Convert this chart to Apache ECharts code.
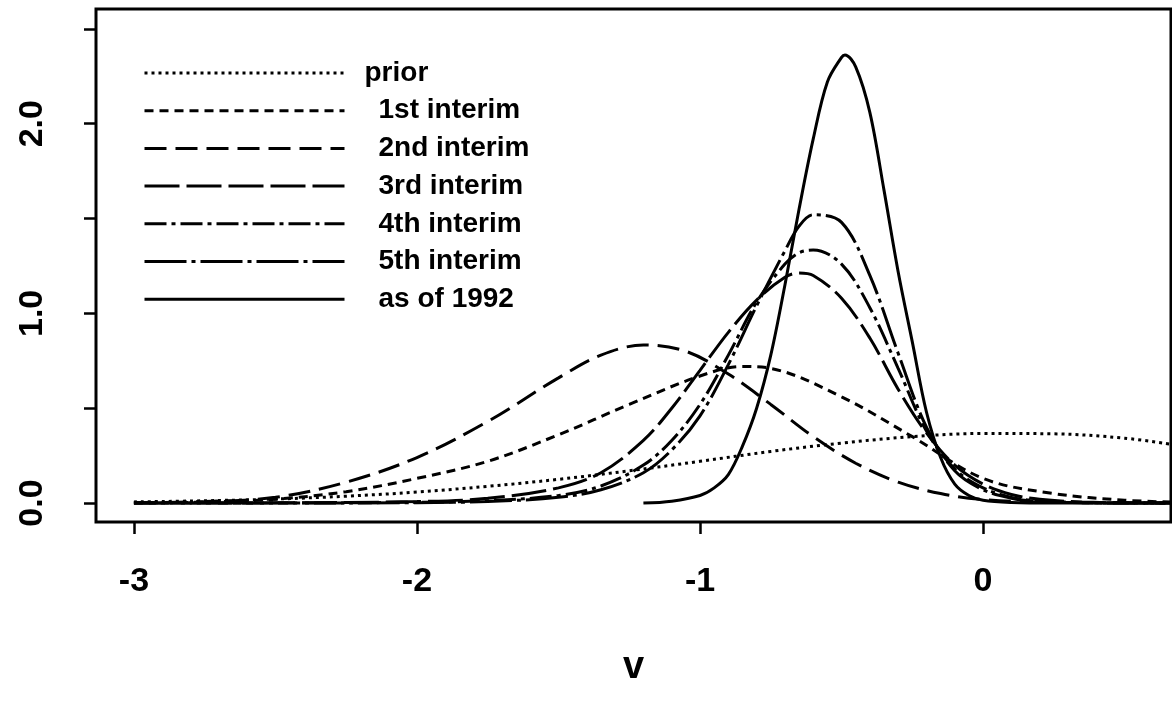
<!DOCTYPE html>
<html>
<head>
<meta charset="utf-8">
<script src="https://cdn.jsdelivr.net/npm/echarts@6/dist/echarts.min.js"></script>
<style>
  html, body { margin: 0; padding: 0; background: #fff; }
  #chart { width: 1172px; height: 702px; }
</style>
</head>
<body>
<div id="chart"></div>
<script>
// Posterior densities of v at successive interim analyses

const seriesNames = ['prior', '1st interim', '2nd interim', '3rd interim', '4th interim', '5th interim', 'as of 1992'];

const priorX = [-3, -2.75, -2.5, -2.25, -2, -1.75, -1.5, -1.25, -1, -0.75, -0.5, -0.25, 0, 0.25, 0.5, 0.664];
const priorY = [0.006, 0.012, 0.021, 0.036, 0.058, 0.088, 0.125, 0.17, 0.22, 0.272, 0.316, 0.35, 0.367, 0.365, 0.342, 0.31];

const interim1X = [-3, -2.75, -2.5, -2.25, -2, -1.75, -1.5, -1.25, -1, -0.85, -0.75, -0.5, -0.25, 0, 0.25, 0.5, 0.664];
const interim1Y = [0.0, 0.005, 0.02, 0.06, 0.13, 0.22, 0.36, 0.52, 0.67, 0.72, 0.71, 0.56, 0.35, 0.13, 0.05, 0.015, 0.005];

const interim2X = [-3, -2.75, -2.5, -2.25, -2, -1.75, -1.5, -1.35, -1.2, -1.05, -0.9, -0.75, -0.6, -0.45, -0.3, -0.15, 0, 0.25, 0.5, 0.664];
const interim2Y = [0.002, 0.008, 0.03, 0.11, 0.24, 0.43, 0.66, 0.78, 0.833, 0.8, 0.68, 0.52, 0.35, 0.21, 0.11, 0.05, 0.018, 0.004, 0.001, 0];

const tailX = [-3, -2.5, -2, -1.75, -1.5, -1.35, -1.2, -1.1, -1, -0.9, -0.8, -0.7, -0.65, -0.6, -0.5, -0.4, -0.3, -0.2, -0.1, 0, 0.1, 0.2, 0.35, 0.5, 0.664];
const interim3Y = [0, 0.001, 0.008, 0.025, 0.08, 0.16, 0.33, 0.5, 0.7, 0.9, 1.07, 1.19, 1.213, 1.2, 1.08, 0.87, 0.6, 0.37, 0.2, 0.1, 0.045, 0.02, 0.005, 0.001, 0];
const interim4Y = [0, 0, 0.004, 0.012, 0.04, 0.09, 0.2, 0.33, 0.52, 0.78, 1.06, 1.26, 1.32, 1.334, 1.26, 1.03, 0.71, 0.38, 0.18, 0.08, 0.03, 0.012, 0.003, 0, 0];
const interim5Y = [0, 0, 0.002, 0.008, 0.03, 0.07, 0.16, 0.28, 0.46, 0.73, 1.04, 1.33, 1.46, 1.52, 1.48, 1.2, 0.79, 0.4, 0.17, 0.07, 0.025, 0.008, 0.002, 0, 0];

const finalX = [-1.2, -1.1, -1, -0.95, -0.9, -0.85, -0.8, -0.75, -0.7, -0.65, -0.6, -0.55, -0.5, -0.488, -0.45, -0.4, -0.35, -0.3, -0.25, -0.2, -0.15, -0.1, -0.05, 0, 0.1, 0.25, 0.664];
const finalY = [0, 0.01, 0.04, 0.08, 0.15, 0.3, 0.5, 0.78, 1.15, 1.55, 1.92, 2.22, 2.35, 2.363, 2.3, 2.06, 1.65, 1.22, 0.85, 0.48, 0.24, 0.1, 0.04, 0.015, 0.003, 0, 0];

const xTicks = [-3, -2, -1, 0];
const yTicks = [0, 0.5, 1, 1.5, 2, 2.5];
const yLabels = [0, 1, 2];

// Line patterns for each curve, in the same order as the names
const dashes = [[3, 4], [9, 6], [22, 9], [35, 7], [22, 5, 4, 5], [42, 5, 4, 5], 'solid'];

const pairs = (xs, ys) => xs.map((x, i) => [x, ys[i]]);
const curves = [
  pairs(priorX, priorY),
  pairs(interim1X, interim1Y),
  pairs(interim2X, interim2Y),
  pairs(tailX, interim3Y),
  pairs(tailX, interim4Y),
  pairs(tailX, interim5Y),
  pairs(finalX, finalY)
];

const FONT = '"Liberation Sans", Arial, Helvetica, sans-serif';

const chart = echarts.init(document.getElementById('chart'), null, { renderer: 'canvas' });

chart.setOption({
  backgroundColor: '#fff',
  animation: false,
  grid: {
    left: 96, right: 1, top: 9, bottom: 180,
    show: true, borderColor: '#000', borderWidth: 3, backgroundColor: 'transparent'
  },
  legend: {
    orient: 'vertical',
    left: 138, top: 54,
    itemWidth: 200, itemHeight: 20, itemGap: 9.7,
    selectedMode: false,
    itemStyle: { color: 'transparent', borderWidth: 0, opacity: 0 },
    lineStyle: { width: 3, color: '#000' },
    textStyle: {
      fontFamily: FONT, fontSize: 28, lineHeight: 27, fontWeight: 'bold', color: '#000',
      padding: [0, 0, 0, 29]
    },
    data: seriesNames.map((n, i) => i === 0
      ? { name: n, textStyle: { padding: [0, 0, 0, 15] } }
      : { name: n })
  },
  xAxis: {
    type: 'value',
    min: -3.134, max: 0.664,
    name: 'v',
    nameLocation: 'middle',
    nameGap: 127,
    nameTextStyle: { fontFamily: FONT, fontSize: 38, fontWeight: 'bold', color: '#000' },
    axisLine: { show: false, onZero: false },
    splitLine: { show: false },
    axisTick: { show: true, length: 12, customValues: xTicks, lineStyle: { color: '#000', width: 2.5 } },
    axisLabel: {
      customValues: xTicks,
      margin: 43,
      fontFamily: FONT, fontSize: 34, fontWeight: 'bold', color: '#000',
      formatter: v => String(v)
    }
  },
  yAxis: {
    type: 'value',
    min: -0.1, max: 2.605,
    axisLine: { show: false, onZero: false },
    splitLine: { show: false },
    axisTick: { show: true, length: 12, customValues: yTicks, lineStyle: { color: '#000', width: 2.5 } },
    axisLabel: {
      customValues: yLabels,
      rotate: 90,
      margin: 46,
      fontFamily: FONT, fontSize: 34, fontWeight: 'bold', color: '#000',
      formatter: v => v.toFixed(1)
    }
  },
  series: curves.map((data, i) => ({
    name: seriesNames[i],
    type: 'line',
    data: data,
    smooth: 0.35,
    symbol: 'none',
    clip: true,
    lineStyle: { color: '#000', width: 3, type: dashes[i] },
    itemStyle: { color: '#000' }
  }))
});
</script>
</body>
</html>
